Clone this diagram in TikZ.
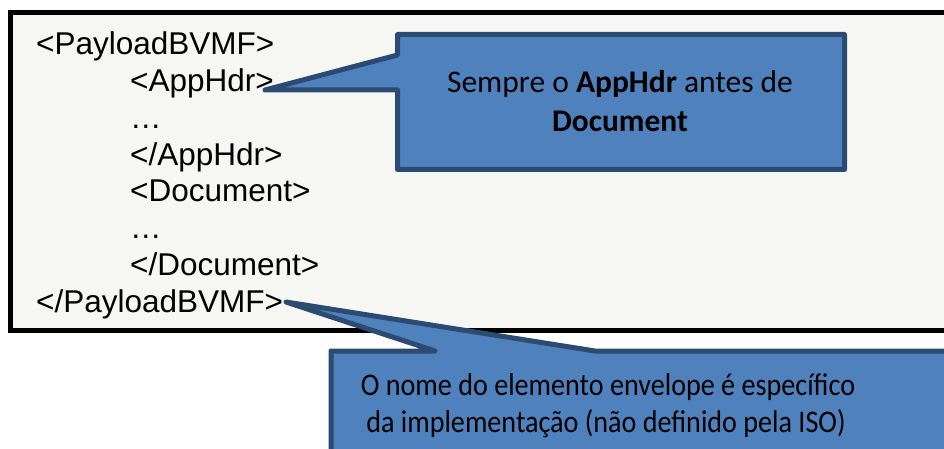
\documentclass[tikz,border=0pt]{standalone}
\usepackage{graphicx}
\usepackage{fontspec}
\setmainfont{Liberation Sans}
\newfontfamily\calfont{Carlito}
\definecolor{panelfill}{HTML}{F6F7F2}
\definecolor{callfill}{HTML}{4F81BD}
\definecolor{calldraw}{HTML}{2C4B72}
\tikzset{
  xmltext/.style={anchor=base west, inner sep=0pt, font=\fontsize{31.5}{36}\selectfont},
  calltext/.style={anchor=base, inner sep=0pt, font=\calfont\fontsize{31.5}{38}\selectfont},
  callshape/.style={fill=callfill, draw=calldraw, line width=5pt, line join=round},
  panel/.style={fill=panelfill, draw=black, line width=5pt}
}
\begin{document}
\begin{tikzpicture}[x=1pt,y=-1pt]
\useasboundingbox (0,0) rectangle (944,449);
\clip (0,0) rectangle (944,449);
\fill[white] (0,0) rectangle (944,449);
% main panel
\draw[panel] (10.5,12.5) rectangle (1000,330.5);
% text lines
\node[xmltext] (l1) at (36,55) {<PayloadBVMF>};
\node[xmltext] (l2) at (130,91.7) {<AppHdr>};
\node[xmltext] (l3) at (130,128.4) {…};
\node[xmltext] (l4) at (130,165.1) {</AppHdr>};
\node[xmltext] (l5) at (130,201.8) {<Document>};
\node[xmltext] (l6) at (130,238.5) {…};
\node[xmltext] (l7) at (130,275.2) {</Document>};
\node[xmltext] (l8) at (36,312) {</PayloadBVMF>};
% callout 1
\coordinate (tip1) at (265,90);
\draw[callshape] (397.5,34.5) -- (844.5,34.5) -- (844.5,169.5) -- (397.5,169.5) -- (397.5,90) -- (tip1) -- (397.5,55) -- cycle;
\node[calltext] (c1a) at (620,93) {Sempre o \textbf{AppHdr} antes de};
\node[calltext] (c1b) at (620,132) {\textbf{Document}};
% callout 2
\coordinate (tip2) at (286,302);
\draw[callshape] (331,351) -- (435,351) -- (tip2) -- (595,351) -- (980,351) -- (980,480) -- (331,480) -- cycle;
\node[calltext] (c2a) at (608,395) {\scalebox{0.893}[1]{O nome do elemento envelope é específico}};
\node[calltext] (c2b) at (606,432) {\scalebox{0.893}[1]{da implementação (não definido pela ISO)}};
\end{tikzpicture}
\end{document}
